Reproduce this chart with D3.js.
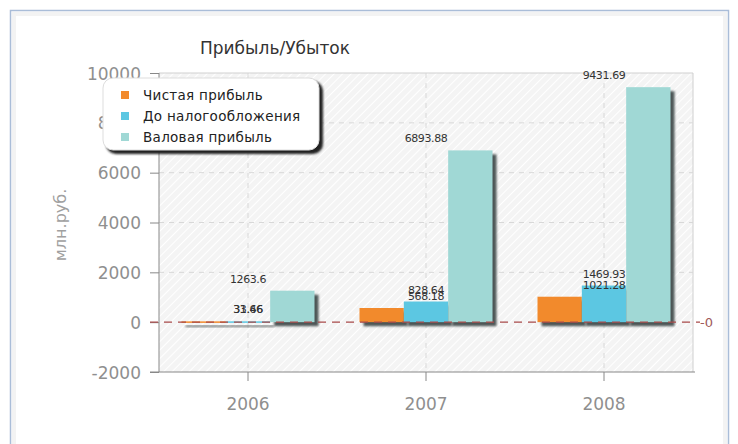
<!DOCTYPE html>
<html>
<head>
<meta charset="utf-8">
<script src="https://cdn.jsdelivr.net/npm/d3@7"></script>
<style>
  html, body { margin: 0; padding: 0; background: #fff; }
  svg { display: block; }
</style>
</head>
<body>
<svg id="chart" width="738" height="444"></svg>
<script>
// Profit / loss by year, millions of rubles
const years = ["2006", "2007", "2008"];
const seriesNames = ["Чистая прибыль", "До налогообложения", "Валовая прибыль"];
const netProfit = [31.46, 568.18, 1021.28];
const preTax = [33.66, 828.64, 1469.93];
const grossProfit = [1263.6, 6893.88, 9431.69];
const yTicks = [-2000, 0, 2000, 4000, 6000, 8000, 10000];
const colors = ["#f28a2c", "#5cc7e2", "#a0d8d5"];

const seriesValues = [netProfit, preTax, grossProfit];

const svg = d3.select("#chart");
const plotL = 159, plotR = 693, plotT = 73, plotB = 372;

const x0 = d3.scaleBand().domain(years).range([plotL, plotR]).padding(0);
const groupW = 133;
const x1 = d3.scaleBand().domain(seriesNames)
  .range([(x0.bandwidth() - groupW) / 2, (x0.bandwidth() + groupW) / 2]).padding(0);
const y = d3.scaleLinear().domain([-2000, 10000]).range([plotB, plotT]);

const defs = svg.append("defs");
const pat = defs.append("pattern").attr("id", "hatch")
  .attr("patternUnits", "userSpaceOnUse").attr("width", 6).attr("height", 6)
  .attr("patternTransform", "rotate(45)");
pat.append("rect").attr("width", 6).attr("height", 6).attr("fill", "#f4f4f4");
pat.append("line").attr("x1", 0).attr("y1", 0).attr("x2", 0).attr("y2", 6)
  .attr("stroke", "#ffffff").attr("stroke-width", 2);

const blur = defs.append("filter").attr("id", "soft").attr("x", "-20%").attr("y", "-20%")
  .attr("width", "140%").attr("height", "140%");
blur.append("feGaussianBlur").attr("stdDeviation", 0.8);

// frame
svg.append("rect").attr("x", 10.5).attr("y", 10.5).attr("width", 718).attr("height", 440)
  .attr("fill", "#fdfdfd").attr("stroke", "#aabdd8").attr("stroke-width", 1.5);
svg.append("rect").attr("x", 14).attr("y", 14).attr("width", 711).attr("height", 440)
  .attr("fill", "#ffffff").attr("stroke", "#f3f3f3").attr("stroke-width", 4);

// plot background
svg.append("rect").attr("x", plotL).attr("y", plotT).attr("width", plotR - plotL).attr("height", plotB - plotT)
  .attr("fill", "url(#hatch)");
svg.append("path").attr("d", `M${plotL},${plotT}H${plotR}V${plotB}`)
  .attr("fill", "none").attr("stroke", "#d0d0d0");

// grid
const grid = svg.append("g");
grid.selectAll(".hg").data(yTicks.filter(t => t !== 0 && t !== -2000 && t !== 10000)).join("line")
  .attr("x1", plotL).attr("x2", plotR).attr("y1", d => y(d)).attr("y2", d => y(d))
  .attr("stroke", "#d8d8d8").attr("stroke-dasharray", "5,5");
grid.selectAll(".vg").data(years).join("line")
  .attr("x1", d => x0(d) + x0.bandwidth() / 2).attr("x2", d => x0(d) + x0.bandwidth() / 2)
  .attr("y1", plotT).attr("y2", plotB)
  .attr("stroke", "#d8d8d8").attr("stroke-dasharray", "5,5");

// axes
const yAxis = svg.append("g").attr("transform", `translate(${plotL},0)`)
  .call(d3.axisLeft(y).tickValues(yTicks).tickSize(9).tickPadding(9).tickFormat(d => String(d)));
yAxis.select(".domain").attr("stroke", "#888").attr("d", `M0,${plotT}V${plotB}`);
yAxis.selectAll(".tick line").attr("stroke", "#888");
yAxis.selectAll(".tick text").attr("fill", "#8f8f8f")
  .style("font", "17px 'DejaVu Sans', sans-serif").attr("dy", "0.36em");

const xAxis = svg.append("g").attr("transform", `translate(0,${plotB})`)
  .call(d3.axisBottom(x0).tickSize(9).tickPadding(17));
xAxis.select(".domain").attr("stroke", "#888").attr("d", `M${plotL - 9},0H${plotR + 2}`);
xAxis.selectAll(".tick line").attr("stroke", "#888");
xAxis.selectAll(".tick text").attr("fill", "#8f8f8f")
  .style("font", "17px 'DejaVu Sans', sans-serif");

// bars
const flat = [];
years.forEach((yr, i) => seriesNames.forEach((s, j) => flat.push({ yr, s, j, v: seriesValues[j][i] })));
const bars = svg.append("g");
const bx = d => x0(d.yr) + x1(d.s);
const bTop = d => Math.min(y(d.v), y(0));
const bH = d => Math.max(Math.abs(y(d.v) - y(0)), 1.5);
bars.selectAll(".shadow").data(flat).join("rect")
  .attr("x", d => bx(d) + 4).attr("y", d => bTop(d) + 4)
  .attr("width", x1.bandwidth()).attr("height", d => bH(d))
  .attr("fill", "#4d5656").attr("filter", "url(#soft)");
bars.selectAll(".bar").data(flat).join("rect")
  .attr("x", d => bx(d)).attr("y", d => bTop(d))
  .attr("width", x1.bandwidth()).attr("height", d => bH(d))
  .attr("fill", d => colors[d.j]);

// zero line
svg.append("line").attr("x1", plotL - 9).attr("x2", plotR + 7).attr("y1", y(0)).attr("y2", y(0))
  .attr("stroke", "#a84a4a").attr("stroke-width", 1.3).attr("stroke-dasharray", "8,6");
svg.append("text").attr("x", plotR + 7).attr("y", y(0)).attr("dy", "0.35em")
  .attr("fill", "#a05a5a").style("font", "13px 'DejaVu Sans', sans-serif").text("-0");

// value labels, centred over each year
svg.append("g").selectAll("text").data(flat).join("text")
  .attr("x", d => x0(d.yr) + x0.bandwidth() / 2)
  .attr("y", d => y(Math.max(d.v, 0)) - 8)
  .attr("text-anchor", "middle").attr("fill", "#333")
  .style("font", "11px 'DejaVu Sans', sans-serif").style("letter-spacing", "-0.4px")
  .text(d => d.v);

// title
svg.append("text").attr("x", 275).attr("y", 54).attr("text-anchor", "middle")
  .attr("fill", "#333").style("font", "17px 'DejaVu Sans', sans-serif").text("Прибыль/Убыток");

// y title
svg.append("text").attr("transform", `translate(66,225) rotate(-90)`).attr("text-anchor", "middle")
  .attr("fill", "#a0a0a0").style("font", "16px 'DejaVu Sans', sans-serif").text("млн.руб.");

// legend
const lg = svg.append("g").attr("transform", "translate(103,78)");
lg.append("rect").attr("x", 3).attr("y", 3).attr("width", 217).attr("height", 73).attr("rx", 10)
  .attr("fill", "#222").attr("filter", "url(#soft)");
lg.append("rect").attr("x", 0).attr("y", 0).attr("width", 216).attr("height", 72).attr("rx", 10)
  .attr("fill", "#fff").attr("stroke", "#ddd");
const items = lg.selectAll(".it").data(seriesNames).join("g")
  .attr("transform", (d, i) => `translate(0,${17 + i * 21})`);
items.append("rect").attr("x", 18).attr("y", -4).attr("width", 8).attr("height", 8)
  .attr("fill", (d, i) => colors[i]);
items.append("text").attr("x", 40).attr("dy", "0.35em").attr("fill", "#222")
  .style("font", "13.5px 'DejaVu Sans', sans-serif").style("letter-spacing", "0.3px").text(d => d);
</script>
</body>
</html>
